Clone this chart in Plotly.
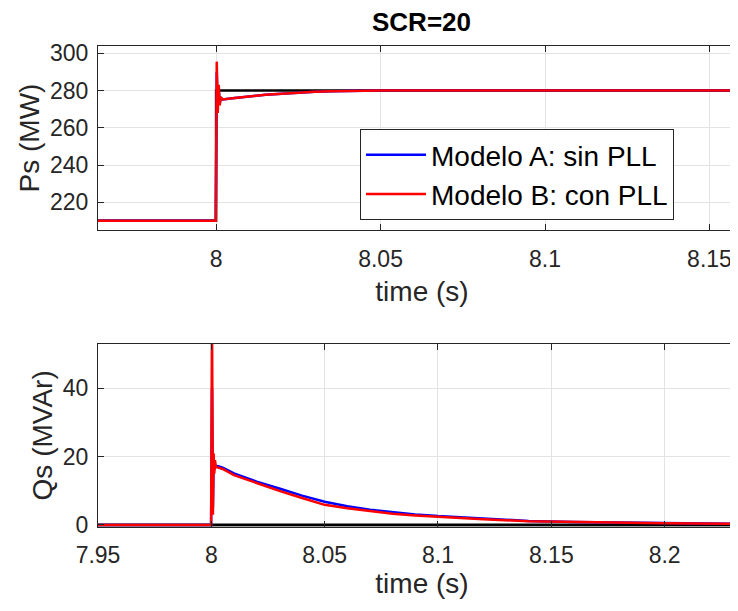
import plotly.graph_objects as go

# reference (black)
t_ref = [7.95, 8.0, 8.0, 8.24]
ps_ref = [210, 210, 280, 280]
qs_ref = [0, 0, 0, 0]

# active power Ps (MW)
t_ps = [7.95, 7.9999, 8.0002, 8.0005, 8.0008, 8.0011, 8.0014, 8.002, 8.005, 8.01,
        8.015, 8.02, 8.025, 8.03, 8.035, 8.04, 8.05, 8.06, 8.08, 8.1, 8.15, 8.24]
ps_A = [210, 210, 290, 271, 281, 273, 276, 275.2, 275.9, 276.9,
        277.7, 278.3, 278.9, 279.3, 279.6, 279.8, 280, 280, 280, 280, 280, 280]
ps_B = [210, 210, 295.5, 268, 283, 272, 276.5, 275.2, 275.9, 276.9,
        277.7, 278.3, 278.9, 279.3, 279.6, 279.8, 280, 280, 280, 280, 280, 280]

# reactive power Qs (MVAr)
t_qs = [7.95, 7.9999, 8.0003, 8.0007, 8.001, 8.0013, 8.0016, 8.002, 8.003, 8.005,
        8.01, 8.015, 8.02, 8.03, 8.04, 8.05, 8.06, 8.07, 8.08, 8.09, 8.1,
        8.12, 8.14, 8.16, 8.18, 8.2, 8.24]
qs_A = [0, 0, 40, 5, 18, 16, 17.8, 17.3, 17.2, 16.8,
        15.1, 13.9, 12.7, 10.7, 8.6, 6.8, 5.5, 4.5, 3.7, 3.1, 2.6,
        1.8, 1.2, 0.9, 0.7, 0.5, 0.3]
qs_B = [0, 0, 60, 3, 21, 15, 19, 17.0, 16.8, 16.4,
        14.6, 13.4, 12.2, 10.0, 7.9, 5.9, 4.9, 4.0, 3.3, 2.8, 2.4,
        1.7, 1.1, 0.85, 0.65, 0.5, 0.3]

top_ticks = [8, 8.05, 8.1, 8.15]
top_labels = ["8", "8.05", "8.1", "8.15"]
bot_ticks = [7.95, 8, 8.05, 8.1, 8.15, 8.2]
bot_labels = ["7.95", "8", "8.05", "8.1", "8.15", "8.2"]

txt = "#262626"
grid = "#e3e3e3"
font = "Liberation Sans"
W, H = 738, 611
# the page body adds an 8px offset, so figure coords are screen coords minus 8

fig = go.Figure()
fig.add_trace(go.Scatter(x=t_ref, y=ps_ref, mode="lines", line=dict(color="black", width=2.5),
                         showlegend=False, xaxis="x", yaxis="y"))
fig.add_trace(go.Scatter(x=t_ps, y=ps_A, mode="lines", line=dict(color="blue", width=2.5),
                         name="Modelo A: sin PLL", xaxis="x", yaxis="y"))
fig.add_trace(go.Scatter(x=t_ps, y=ps_B, mode="lines", line=dict(color="red", width=2.5),
                         name="Modelo B: con PLL", xaxis="x", yaxis="y"))
fig.add_trace(go.Scatter(x=t_ref, y=qs_ref, mode="lines", line=dict(color="black", width=3),
                         showlegend=False, xaxis="x2", yaxis="y2"))
fig.add_trace(go.Scatter(x=t_qs, y=qs_A, mode="lines", line=dict(color="blue", width=2.5),
                         showlegend=False, xaxis="x2", yaxis="y2"))
fig.add_trace(go.Scatter(x=t_qs, y=qs_B, mode="lines", line=dict(color="red", width=2.5),
                         showlegend=False, xaxis="x2", yaxis="y2"))

ax = dict(showline=True, linecolor=txt, linewidth=1, showgrid=True, gridcolor=grid,
          ticks="inside", ticklen=6, tickcolor=txt, zeroline=False, automargin=False,
          tickfont=dict(family=font, size=23, color=txt))
xd = [90 / W, 1.0]

fig.update_layout(
    width=W, height=H,
    margin=dict(l=0, r=0, t=0, b=0),
    plot_bgcolor="white", paper_bgcolor="white",
    font=dict(family=font, color=txt),
    xaxis=dict(ax, domain=xd, range=[7.9641, 8.1611], tickvals=top_ticks, ticktext=top_labels,
               mirror="ticks", anchor="y", ticklabelstandoff=8,
               title=dict(text="time (s)", font=dict(size=28, color=txt), standoff=10)),
    yaxis=dict(ax, domain=[1 - 222 / H, 1 - 38 / H], range=[205.1, 303.9],
               tickvals=[220, 240, 260, 280, 300], anchor="x", ticklabelstandoff=4,
               title=dict(text="Ps (MW)", font=dict(size=28, color=txt), standoff=2)),
    xaxis2=dict(ax, domain=xd, range=[7.95, 8.2359], tickvals=bot_ticks, ticktext=bot_labels,
                mirror="ticks", anchor="y2", ticklabelstandoff=8,
                title=dict(text="time (s)", font=dict(size=28, color=txt), standoff=4)),
    yaxis2=dict(ax, domain=[1 - 518.7 / H, 1 - 336 / H], range=[-0.5, 53],
                tickvals=[0, 20, 40], anchor="x2", ticklabelstandoff=4,
                title=dict(text="Qs (MVAr)", font=dict(size=28, color=txt), standoff=2)),
    legend=dict(x=352 / W, y=1 - 121 / H, xanchor="left", yanchor="top",
                bgcolor="white", bordercolor=txt, borderwidth=1, itemwidth=60,
                font=dict(family=font, size=28, color="black"), tracegroupgap=0),
    annotations=[dict(text="<b>SCR=20</b>", x=413 / W, y=1 - 14 / H, xref="paper", yref="paper",
                      showarrow=False, font=dict(family=font, size=26, color="black"),
                      xanchor="center", yanchor="middle")],
)

fig.write_html("out.html")
